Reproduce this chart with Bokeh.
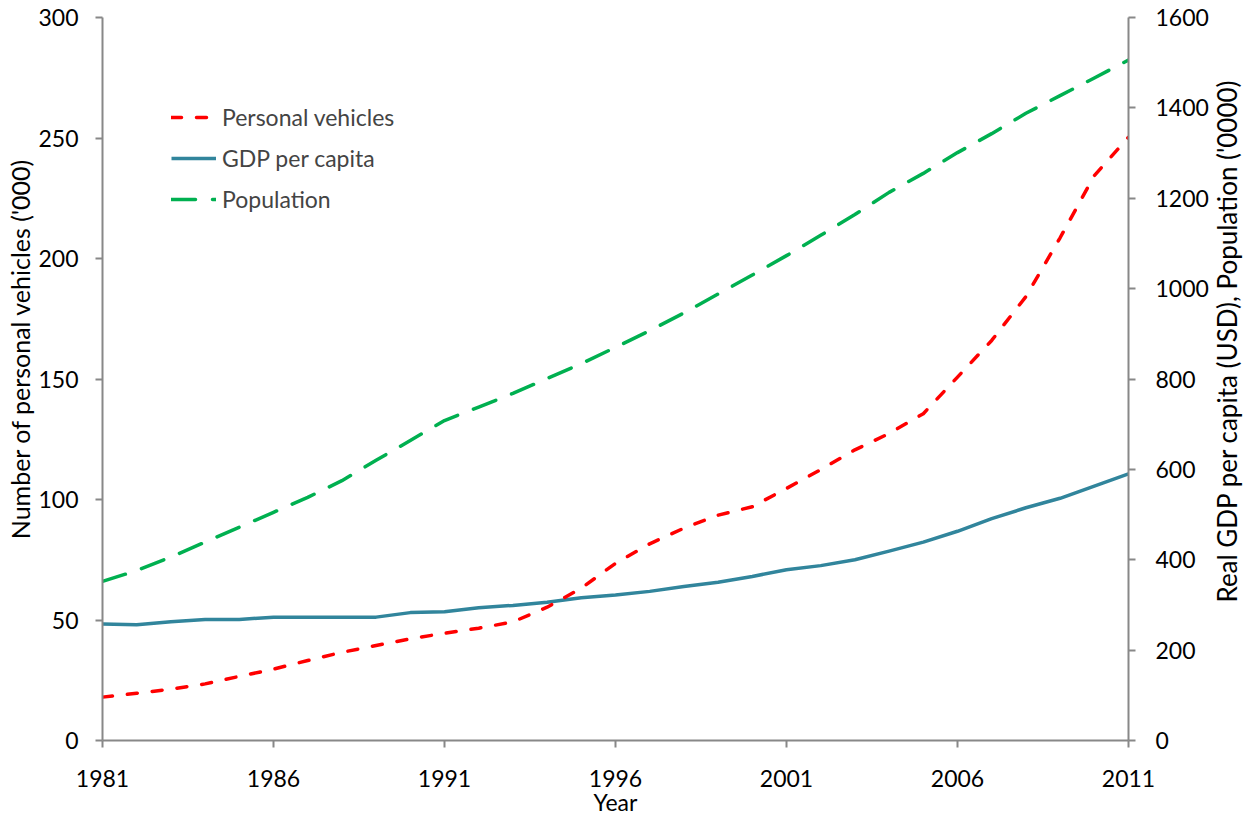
import math
from bokeh.plotting import figure
from bokeh.layouts import row
from bokeh.models import Range1d, LinearAxis, FixedTicker, Legend, LegendItem, Label
from bokeh.embed import file_html
from bokeh.resources import INLINE

years = [1981, 1982, 1983, 1984, 1985, 1986, 1987, 1988, 1989, 1990,
         1991, 1992, 1993, 1994, 1995, 1996, 1997, 1998, 1999, 2000,
         2001, 2002, 2003, 2004, 2005, 2006, 2007, 2008, 2009, 2010, 2011]

vehicles = [18.0, 19.6, 21.3, 23.5, 26.6, 29.6, 33.2, 36.6, 39.4, 42.2,
            44.5, 46.6, 49.2, 55.3, 63.2, 73.5, 81.6, 88.1, 93.5, 97.0,
            104.6, 112.4, 120.6, 127.4, 135.6, 150.8, 166.0, 184.2, 208.6, 234.4, 250.3]

gdp_per_capita = [258, 256, 263, 268, 268, 273, 273, 273, 273, 283,
                  285, 294, 299, 306, 316, 322, 330, 341, 350, 363,
                  378, 387, 400, 419, 439, 463, 491, 515, 536, 563, 590]

population = [352, 376, 406, 439, 472, 505, 538, 575, 620, 664,
              708, 738, 768, 801, 834, 870, 907, 946, 988, 1030,
              1073, 1118, 1164, 1213, 1255, 1301, 1343, 1388, 1427, 1466, 1506]

x_ticks = [1981, 1986, 1991, 1996, 2001, 2006, 2011]
left_ticks = [0, 50, 100, 150, 200, 250, 300]
right_ticks = [0, 200, 400, 600, 800, 1000, 1200, 1400, 1600]

series_labels = ["Personal vehicles", "GDP per capita", "Population"]
x_title = "Year"
left_title = "Number of personal vehicles ('000)"
right_title = "Real GDP per capita (USD), Population ('0000)"

FONT = "Lato"
FS = "23px"
AXIS_COLOR = "#888888"

p = figure(frame_width=1026, frame_height=723,
           x_range=Range1d(1981, 2011), y_range=Range1d(0, 300),
           output_backend="svg", toolbar_location=None,
           min_border_left=64, min_border_right=80,
           min_border_top=17, min_border_bottom=60)
p.extra_y_ranges = {"right": Range1d(0, 1600)}
p.outline_line_color = None
p.xgrid.visible = False
p.ygrid.visible = False
p.background_fill_color = "white"
p.border_fill_color = "white"


def style_axis(ax, standoff, title_standoff):
    ax.axis_line_color = AXIS_COLOR
    ax.axis_line_width = 2
    ax.major_tick_line_color = AXIS_COLOR
    ax.major_tick_line_width = 2
    ax.major_tick_in = 0
    ax.major_tick_out = 7
    ax.minor_tick_line_color = None
    ax.major_label_text_font = FONT
    ax.major_label_text_font_size = FS
    ax.major_label_text_color = "black"
    ax.major_label_standoff = standoff
    ax.axis_label_text_font = FONT
    ax.axis_label_text_font_size = FS
    ax.axis_label_text_font_style = "normal"
    ax.axis_label_text_color = "black"
    ax.axis_label_standoff = title_standoff


p.xaxis.ticker = FixedTicker(ticks=x_ticks)
p.xaxis.axis_label = x_title
style_axis(p.xaxis[0], 22, -2)

p.yaxis.ticker = FixedTicker(ticks=left_ticks)
style_axis(p.yaxis[0], 17, 2)

right_axis = LinearAxis(y_range_name="right", ticker=FixedTicker(ticks=right_ticks))
style_axis(right_axis, 20, 2)
p.add_layout(right_axis, "right")

r_gdp = p.line(years, gdp_per_capita, y_range_name="right", line_color="#31859C",
               line_width=3.5, line_join="round")
r_pop = p.line(years, population, y_range_name="right", line_color="#00B050",
               line_width=3.5, line_dash="24 17", line_cap="round", line_join="round")
r_veh = p.line(years, vehicles, line_color="#FF0000", line_width=3.5,
               line_dash="10 15", line_cap="round", line_join="round")

legend = Legend(items=[LegendItem(label=series_labels[0], renderers=[r_veh]),
                       LegendItem(label=series_labels[1], renderers=[r_gdp]),
                       LegendItem(label=series_labels[2], renderers=[r_pop])],
                location=(69, 526), padding=0, margin=0, spacing=11,
                glyph_width=45, glyph_height=30, label_height=30, label_standoff=6,
                label_text_font=FONT, label_text_font_size=FS,
                background_fill_alpha=0, border_line_alpha=0)
p.add_layout(legend)


def title_strip(width, text, x, y, size):
    s = figure(width=width, height=740, x_range=Range1d(0, width), y_range=Range1d(0, 740),
               output_backend="svg", toolbar_location=None,
               x_axis_type=None, y_axis_type=None,
               min_border=0, min_border_left=0, min_border_right=0,
               min_border_top=0, min_border_bottom=0)
    s.outline_line_color = None
    s.xgrid.visible = False
    s.ygrid.visible = False
    s.background_fill_color = "white"
    s.border_fill_color = "white"
    s.add_layout(Label(x=x, y=y, text=text, angle=math.pi / 2,
                       text_align="center", text_baseline="middle",
                       text_font=FONT, text_font_size=size, text_color="black"))
    return s


left_strip = title_strip(35, left_title, 19, 360, "25px")
right_strip = title_strip(37, right_title, 15, 369, "26px")

layout = row(left_strip, p, right_strip, spacing=0)

open("out.html", "w").write(file_html(layout, INLINE))
